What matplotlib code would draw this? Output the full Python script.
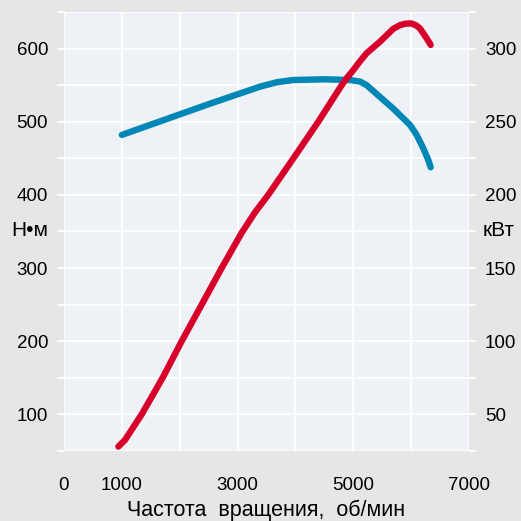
import matplotlib.pyplot as plt
from matplotlib.ticker import FixedLocator, NullFormatter

# ========= data =========

torque_rpm = [1000, 1500, 2000, 2500, 3000, 3390, 3680, 3960, 4500, 4950,
              5120, 5230, 5460, 5690, 5980, 6095, 6210, 6296, 6338]
torque_nm = [482, 496, 510, 524, 537.5, 548, 554, 557, 558, 557,
             554.8, 550, 534, 518, 495.6, 482, 463.7, 447.7, 437.7]

power_rpm = [940, 1054, 1343, 1705, 2034, 2380, 2725, 3070, 3300, 3530, 3965,
             4395, 4800, 4885, 5000, 5120, 5230, 5461, 5691, 5807, 5900, 5997,
             6080, 6150, 6268, 6338]
power_kw = [28, 32.5, 50, 75, 100, 125, 150, 174, 188, 200, 225,
            250, 275, 279.7, 285.3, 291.5, 296.8, 304.7, 313.5, 316, 317, 317.2,
            316, 313.9, 307, 302.5]

x_ticks = [0, 1000, 3000, 5000, 7000]
x_grid = [2000, 4000, 6000]
nm_ticks = [100, 200, 300, 400, 500, 600]
nm_minor = [50, 150, 250, 350, 450, 550, 650]
kw_ticks = [50, 100, 150, 200, 250, 300]
kw_minor = [25, 75, 125, 175, 225, 275, 325]

# ========= style =========

plt.rcParams["font.family"] = ["Liberation Sans", "DejaVu Sans"]
BG = "#e6e6e6"
PANEL = "#eef1f6"
BLUE = "#0087b5"
RED = "#d6002a"

fig = plt.figure(figsize=(5.21, 5.21), dpi=100, facecolor=BG)
ax = fig.add_axes([0.1228, 0.1344, 0.7774, 0.8426])
ax.set_facecolor(PANEL)
ax2 = ax.twinx()

ax.set_xlim(0, 7000)
ax.set_ylim(50, 650)
ax2.set_ylim(25, 325)

for a in (ax, ax2):
    for s in a.spines.values():
        s.set_visible(False)

# x axis: labels only, grid every 1000
ax.xaxis.set_major_locator(FixedLocator(x_ticks))
ax.xaxis.set_minor_locator(FixedLocator(x_grid))
ax.xaxis.set_minor_formatter(NullFormatter())
ax.tick_params(axis="x", which="both", length=0, pad=18.5, labelsize=13.5)

# left axis
ax.yaxis.set_major_locator(FixedLocator(nm_ticks))
ax.yaxis.set_minor_locator(FixedLocator(nm_minor))
ax.yaxis.set_minor_formatter(NullFormatter())
ax.tick_params(axis="y", which="both", length=5, width=1.3, color="white",
               direction="out", pad=6.5, labelsize=13.5)

# right axis
ax2.yaxis.set_major_locator(FixedLocator(kw_ticks))
ax2.yaxis.set_minor_locator(FixedLocator(kw_minor))
ax2.yaxis.set_minor_formatter(NullFormatter())
ax2.tick_params(axis="y", which="both", length=5, width=1.3, color="white",
                direction="out", pad=6.5, labelsize=13.5)

ax.grid(True, which="both", color="white", linewidth=1.3)
ax.set_axisbelow(True)

ax.plot(torque_rpm, torque_nm, color=BLUE, linewidth=4.6,
        solid_capstyle="round", solid_joinstyle="round", zorder=3)
ax2.plot(power_rpm, power_kw, color=RED, linewidth=4.6,
         solid_capstyle="round", solid_joinstyle="round", zorder=3)

fig.text(266 / 521, 1 - 516 / 521, "Частота  вращения,  об/мин",
         fontsize=15.5, ha="center", va="baseline")

fig.text(30 / 521, 1 - 231 / 521, "Н•м", fontsize=15, ha="center", va="center")
fig.text(483 / 521, 1 - 231 / 521, "кВт", fontsize=15, ha="left", va="center")

fig.savefig("out.png", dpi=100, facecolor=BG)
